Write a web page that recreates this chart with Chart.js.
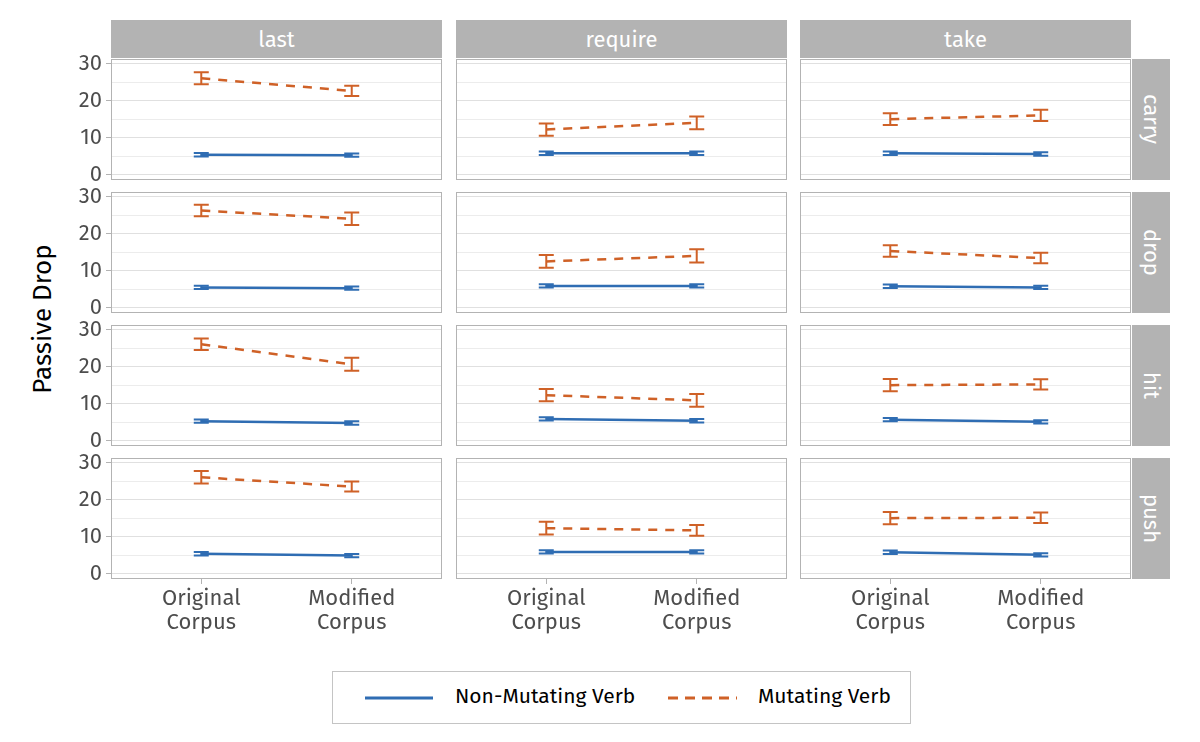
<!DOCTYPE html>
<html>
<head>
<meta charset="utf-8">
<script src="https://cdn.jsdelivr.net/npm/chart.js@4.4.1/dist/chart.umd.min.js"></script>
<style>
  body { margin: 0; background: #fff; font-family: "Fira Sans", "Open Sans", sans-serif; }
  #wrap { position: relative; width: 1200px; height: 742px; overflow: hidden; background: #fff; }
  canvas { position: absolute; }
  .strip { position: absolute; background: #b3b3b3; color: #fff; font-size: 22px;
           display: flex; align-items: center; justify-content: center; }
  .strip.side span { writing-mode: vertical-rl; }
  #ytitle { position: absolute; left: 42px; top: 319px; font-size: 26px; color: #000;
            transform: translate(-50%, -50%) rotate(-90deg); white-space: nowrap; }
  #legend { position: absolute; left: 332px; top: 671px; width: 577px; height: 51px;
            border: 1px solid #c4c4c4; font-size: 21px; color: #000; }
  #legend span { position: absolute; top: 11px; white-space: nowrap; }
  #legend svg { position: absolute; left: 0; top: 0; }
</style>
</head>
<body>
<div id="wrap">
  <div id="ytitle">Passive Drop</div>
  <div id="legend">
    <svg width="577" height="51">
      <line x1="32" y1="26" x2="100" y2="26" stroke="#2f6db3" stroke-width="3"/>
      <line x1="335" y1="26" x2="404" y2="26" stroke="#cf6127" stroke-width="3" stroke-dasharray="10 7"/>
    </svg>
    <span style="left:122px">Non-Mutating Verb</span>
    <span style="left:425px">Mutating Verb</span>
  </div>
</div>
<script>
var columns = ['last', 'require', 'take'];
var rows = ['carry', 'drop', 'hit', 'push'];
var corpora = [['Original', 'Corpus'], ['Modified', 'Corpus']];

// [row][column] = [original, modified]
var mutMean = [
  [[26.0, 22.6], [12.2, 14.0], [15.0, 16.0]],
  [[26.2, 24.0], [12.5, 14.0], [15.3, 13.4]],
  [[26.0, 20.6], [12.3, 10.9], [15.0, 15.2]],
  [[26.0, 23.5], [12.3, 11.7], [15.0, 15.1]]
];
var mutCI = [
  [[1.6, 1.4], [1.65, 1.7], [1.6, 1.5]],
  [[1.55, 1.7], [1.7, 1.8], [1.55, 1.4]],
  [[1.55, 1.75], [1.65, 1.7], [1.65, 1.4]],
  [[1.7, 1.35], [1.7, 1.45], [1.65, 1.4]]
];
var nonMean = [
  [[5.4, 5.3], [5.8, 5.8], [5.8, 5.6]],
  [[5.5, 5.3], [5.9, 5.9], [5.8, 5.5]],
  [[5.3, 4.8], [5.9, 5.4], [5.7, 5.1]],
  [[5.4, 4.9], [5.9, 5.9], [5.8, 5.1]]
];
var nonCI = [
  [[0.45, 0.45], [0.45, 0.45], [0.45, 0.45]],
  [[0.45, 0.45], [0.45, 0.45], [0.45, 0.45]],
  [[0.45, 0.45], [0.45, 0.45], [0.45, 0.45]],
  [[0.45, 0.45], [0.45, 0.45], [0.45, 0.45]]
];

var BLUE = '#2f6db3', ORANGE = '#cf6127';
var FONT = '"Fira Sans", "Open Sans", sans-serif';
var colLeft = [111, 456, 800], rowTop = [59, 192, 325, 458];
var panelW = 331, panelH = 121, yAxisW = 50, xAxisH = 62, pad = 12;

// error bars drawn with the chart's own scales
var errorBars = {
  id: 'errorBars',
  afterDatasetsDraw: function(chart) {
    var ctx = chart.ctx, xs = chart.scales.x, ys = chart.scales.y;
    chart.data.datasets.forEach(function(ds) {
      ctx.save();
      ctx.strokeStyle = ds.borderColor;
      ctx.lineWidth = 2;
      ds.data.forEach(function(p) {
        var x = xs.getPixelForValue(p.x);
        var y0 = ys.getPixelForValue(p.lo), y1 = ys.getPixelForValue(p.hi);
        ctx.beginPath();
        ctx.moveTo(x, y0); ctx.lineTo(x, y1);
        ctx.moveTo(x - 7.5, y0); ctx.lineTo(x + 7.5, y0);
        ctx.moveTo(x - 7.5, y1); ctx.lineTo(x + 7.5, y1);
        ctx.stroke();
      });
      ctx.restore();
    });
  }
};

var panelBorder = {
  id: 'panelBorder',
  afterDraw: function(chart) {
    var a = chart.chartArea, ctx = chart.ctx;
    ctx.save();
    ctx.strokeStyle = '#b3b3b3';
    ctx.lineWidth = 1;
    ctx.strokeRect(a.left + 0.5, a.top + 0.5, a.right - a.left - 1, a.bottom - a.top - 1);
    ctx.restore();
  }
};

function points(mean, ci) {
  return mean.map(function(v, i) {
    return { x: i + 1, y: v, lo: v - ci[i], hi: v + ci[i] };
  });
}

var wrap = document.getElementById('wrap');

// strips
columns.forEach(function(name, c) {
  var d = document.createElement('div');
  d.className = 'strip';
  d.style.left = colLeft[c] + 'px';
  d.style.top = '20px';
  d.style.width = panelW + 'px';
  d.style.height = '38px';
  d.textContent = name;
  wrap.appendChild(d);
});
rows.forEach(function(name, r) {
  var d = document.createElement('div');
  d.className = 'strip side';
  d.style.left = '1132px';
  d.style.top = rowTop[r] + 'px';
  d.style.width = '38px';
  d.style.height = panelH + 'px';
  d.innerHTML = '<span>' + name + '</span>';
  wrap.appendChild(d);
});

rows.forEach(function(rowName, r) {
  columns.forEach(function(colName, c) {
    var isLeft = c === 0, isBottom = r === rows.length - 1;
    var cv = document.createElement('canvas');
    var padBottom = isBottom ? 0 : pad;
    var w = panelW + (isLeft ? yAxisW : 0);
    var h = pad + panelH + (isBottom ? xAxisH : 0) + padBottom;
    cv.width = w; cv.height = h;
    cv.style.left = (colLeft[c] - (isLeft ? yAxisW : 0)) + 'px';
    cv.style.top = (rowTop[r] - pad) + 'px';
    cv.style.width = w + 'px'; cv.style.height = h + 'px';
    wrap.appendChild(cv);

    new Chart(cv, {
      type: 'line',
      data: {
        datasets: [
          {
            label: 'Non-Mutating Verb',
            data: points(nonMean[r][c], nonCI[r][c]),
            borderColor: BLUE,
            borderWidth: 2.5,
            pointRadius: 0,
            fill: false
          },
          {
            label: 'Mutating Verb',
            data: points(mutMean[r][c], mutCI[r][c]),
            borderColor: ORANGE,
            borderWidth: 2.5,
            borderDash: [9, 8],
            pointRadius: 0,
            fill: false
          }
        ]
      },
      options: {
        responsive: false,
        animation: false,
        devicePixelRatio: 1,
        layout: { padding: { top: pad, bottom: padBottom, left: 0, right: 0 } },
        plugins: { legend: { display: false }, tooltip: { enabled: false } },
        scales: {
          x: {
            type: 'linear',
            min: 0.4,
            max: 2.6,
            afterBuildTicks: function(s) { s.ticks = [{ value: 1 }, { value: 2 }]; },
            afterFit: function(s) {
              s.height = isBottom ? xAxisH : 0;
              s.paddingLeft = 0; s.paddingRight = 0;
            },
            border: { display: false },
            grid: { drawOnChartArea: false, drawTicks: isBottom, tickLength: 5, color: '#b3b3b3' },
            ticks: {
              display: isBottom,
              autoSkip: false,
              maxRotation: 0,
              padding: 3,
              color: '#4d4d4d',
              font: { family: FONT, size: 22, lineHeight: 1.08 },
              callback: function(v) { return corpora[v - 1]; }
            }
          },
          y: {
            min: -1.4,
            max: 31.2,
            afterFit: function(s) {
              s.width = isLeft ? yAxisW : 0;
              s.paddingTop = 0; s.paddingBottom = 0;
            },
            border: { display: false },
            grid: {
              color: function(ctx) { return ctx.tick && ctx.tick.value % 10 === 0 ? '#e0e0e0' : '#ececec'; },
              tickColor: function(ctx) { return ctx.tick && ctx.tick.value % 10 === 0 ? '#b3b3b3' : 'rgba(0,0,0,0)'; },
              drawTicks: isLeft,
              tickLength: 5
            },
            ticks: {
              display: isLeft,
              stepSize: 5,
              includeBounds: false,
              autoSkip: false,
              padding: 4,
              color: '#4d4d4d',
              font: { family: FONT, size: 22 },
              callback: function(v) { return v % 10 === 0 ? v : ''; }
            }
          }
        }
      },
      plugins: [errorBars, panelBorder]
    });
  });
});
</script>
</body>
</html>
